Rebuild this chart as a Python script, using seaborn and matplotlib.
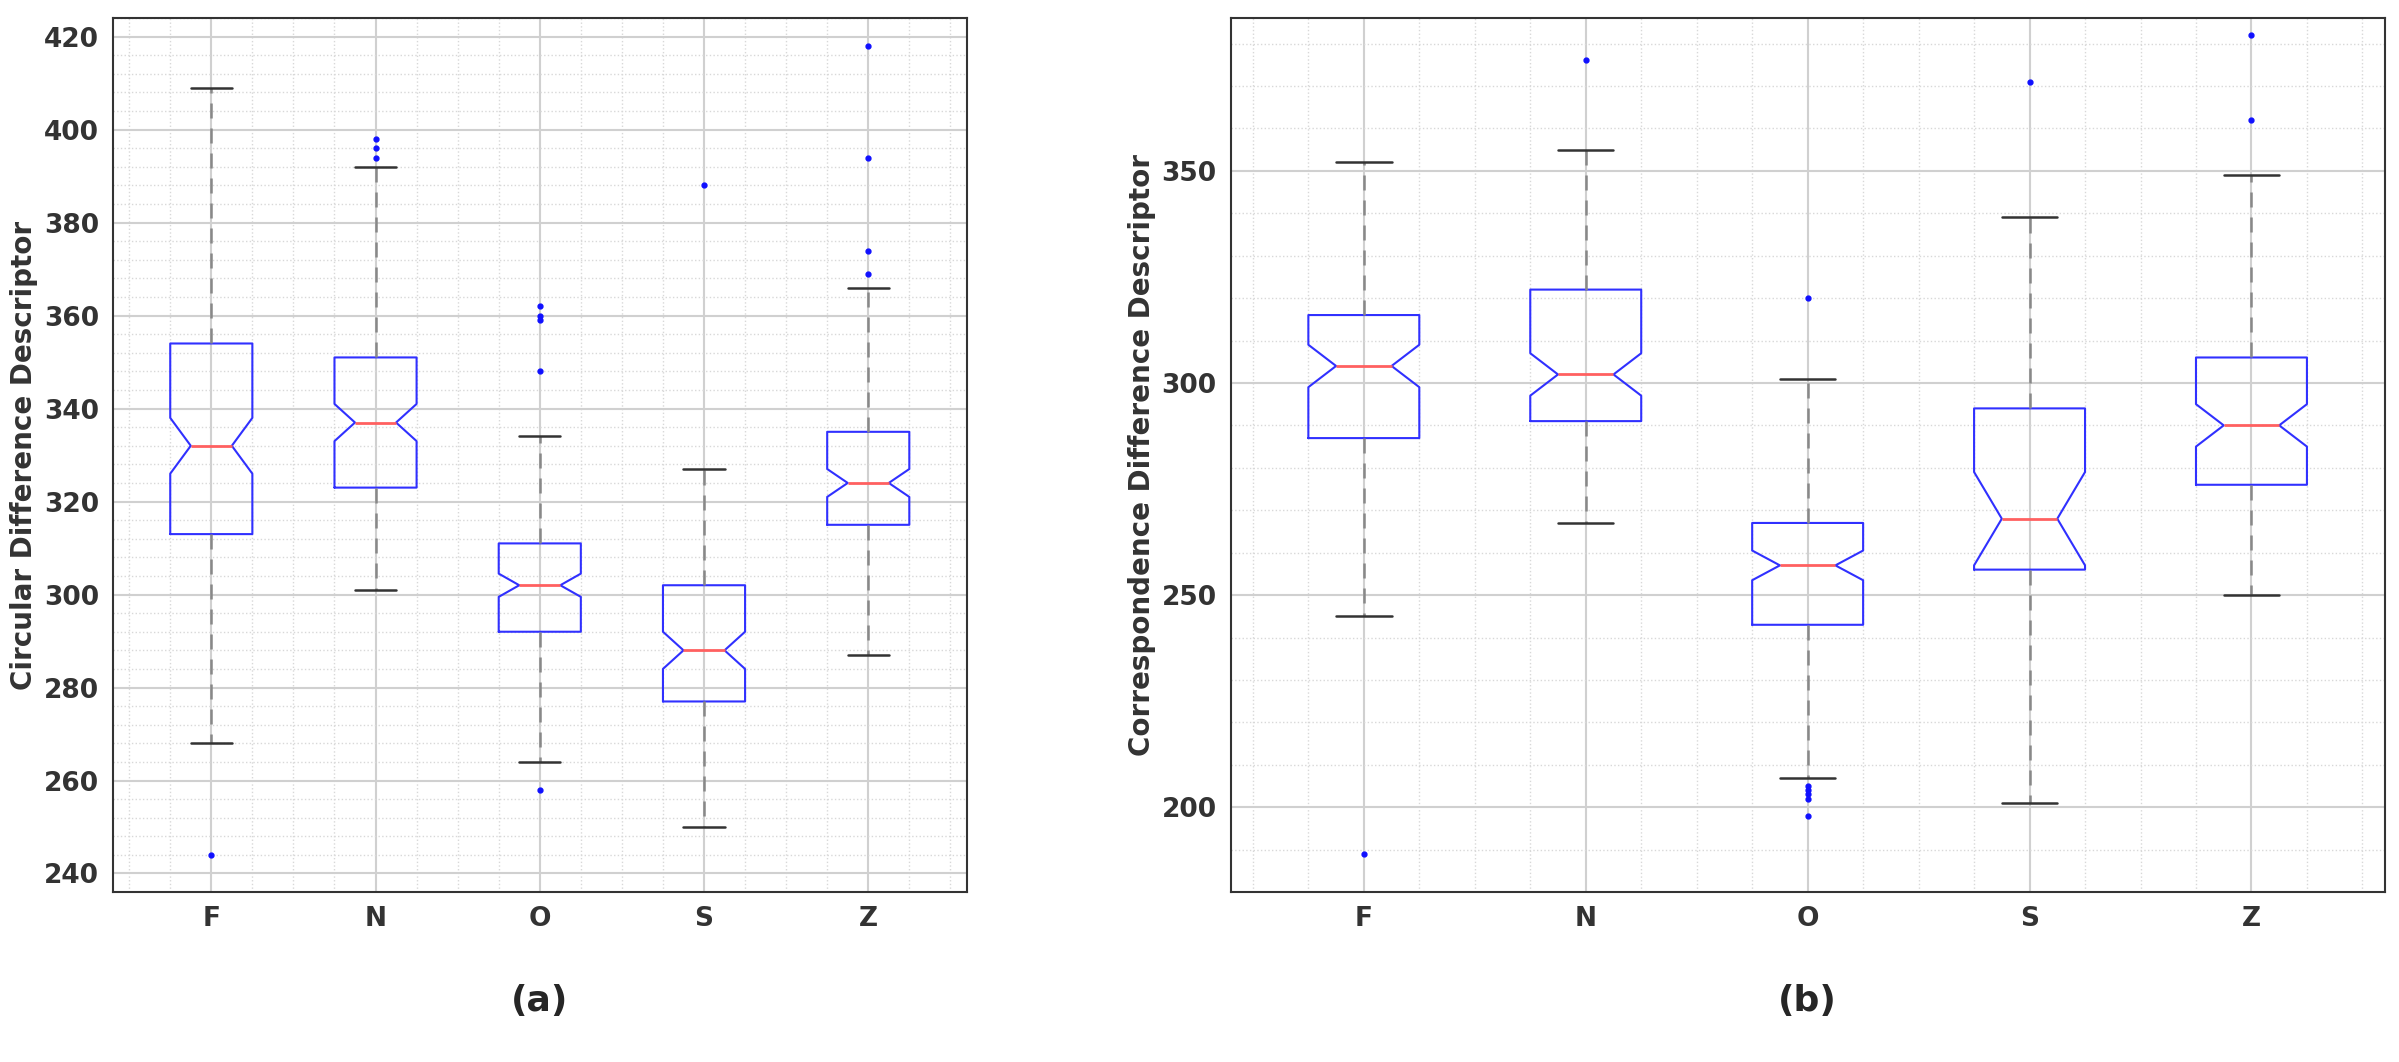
import matplotlib
matplotlib.use("Agg")
import matplotlib.pyplot as plt
import seaborn as sns
from matplotlib.ticker import MultipleLocator, AutoMinorLocator

sns.set_theme(style="white")
plt.rcParams['font.family'] = ['DejaVu Sans']

categories = ["F", "N", "O", "S", "Z"]

a_whislo = [268, 301, 264, 250, 287]
a_q1 = [313, 323, 292, 277, 315]
a_med = [332, 337, 302, 288, 324]
a_q3 = [354, 351, 311, 302, 335]
a_whishi = [409, 392, 334, 327, 366]
a_notch = [6, 4, 2.5, 4, 3]
a_fliers = [[244], [394, 396, 398], [258, 348, 359, 360, 362], [388], [369, 374, 394, 418]]

b_whislo = [245, 267, 207, 201, 250]
b_q1 = [287, 291, 243, 256, 276]
b_med = [304, 302, 257, 268, 290]
b_q3 = [316, 322, 267, 294, 306]
b_whishi = [352, 355, 301, 339, 349]
b_notch = [5, 5, 3.5, 11, 5]
b_fliers = [[189], [376], [320, 198, 202, 203, 204, 205], [371], [362, 382]]


def stats(whislo, q1, med, q3, whishi, notch, fliers):
    out = []
    for i, c in enumerate(categories):
        out.append(dict(label=c, whislo=whislo[i], q1=q1[i], med=med[i], q3=q3[i],
                        whishi=whishi[i], cilo=med[i] - notch[i], cihi=med[i] + notch[i],
                        fliers=fliers[i]))
    return out


fig = plt.figure(figsize=(23.99, 10.62), dpi=100)
ax1 = fig.add_axes([0.047, 0.16, 0.356, 0.823])
ax2 = fig.add_axes([0.513, 0.16, 0.481, 0.823])

panels = [
    (stats(a_whislo, a_q1, a_med, a_q3, a_whishi, a_notch, a_fliers), "Circular Difference Descriptor", (236, 424), 20, "(a)"),
    (stats(b_whislo, b_q1, b_med, b_q3, b_whishi, b_notch, b_fliers), "Correspondence Difference Descriptor", (180, 386), 50, "(b)"),
]

for ax, (st, ylabel, ylim, step, tag) in zip([ax1, ax2], panels):
    ax.bxp(st, shownotches=True, widths=0.5,
           boxprops=dict(color="#3030ff", linewidth=1.5),
           medianprops=dict(color="#ff6060", linewidth=2),
           whiskerprops=dict(color="#888888", linestyle=(0, (6, 4)), linewidth=1.8),
           capprops=dict(color="#333333", linewidth=1.8),
           flierprops=dict(marker="o", markersize=3.5, markerfacecolor="#1010ff",
                           markeredgecolor="#1010ff", linestyle="none"))
    ax.set_ylim(*ylim)
    ax.set_xlim(0.4, 5.6)
    ax.yaxis.set_major_locator(MultipleLocator(step))
    ax.yaxis.set_minor_locator(AutoMinorLocator(5))
    ax.xaxis.set_minor_locator(AutoMinorLocator(4))
    ax.grid(which="major", color="#d0d0d0", linewidth=1.5)
    ax.grid(which="minor", color="#d8d8d8", linestyle=":", linewidth=1)
    ax.set_axisbelow(True)
    for s in ax.spines.values():
        s.set_color("#333333")
        s.set_linewidth(1.5)
    ax.tick_params(labelsize=19, length=0, pad=10)
    for t in ax.get_xticklabels() + ax.get_yticklabels():
        t.set_fontweight("bold")
        t.set_color("#333333")
    ax.set_ylabel(ylabel, fontsize=20, fontweight="bold", color="#333333")
    ax.text(0.5, -0.105, tag, transform=ax.transAxes, ha="center", va="top",
            fontsize=26, fontweight="bold")

fig.savefig("out.png", dpi=100)
